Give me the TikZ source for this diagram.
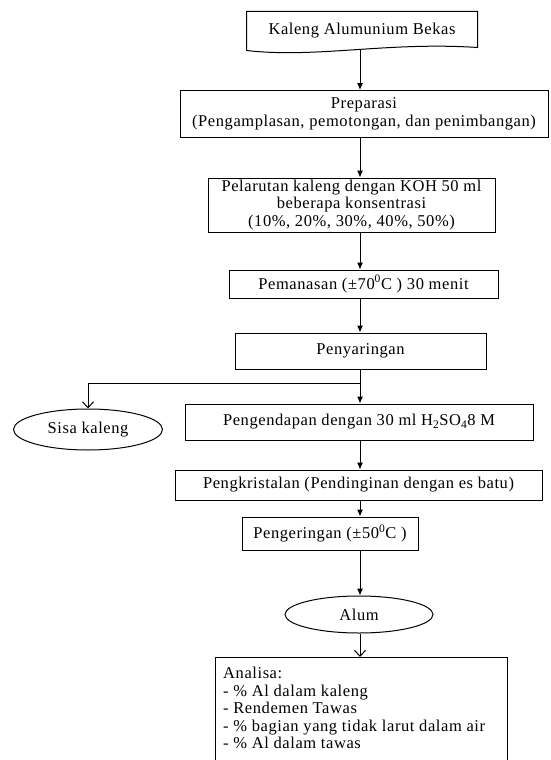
\documentclass[tikz,border=0pt]{standalone}
\usepackage{fontspec}
\setmainfont{Liberation Serif}[LetterSpace=3.5]
\usetikzlibrary{arrows.meta, positioning, shapes.geometric}

\newcommand{\flowfont}{\fontsize{16.5}{17.5}\selectfont}

\tikzset{
  line/.style={black, line width=1pt},
  box/.style={line, draw, rectangle, inner sep=0pt, align=center, font=\flowfont},
  oval/.style={line, draw, ellipse, inner sep=0pt, font=\flowfont},
  arr/.style={line, -{Latex[length=7pt,width=6pt]}},
  openarr/.style={line, -{Straight Barb[length=6pt,width=11pt]}},
}

\begin{document}
\begin{tikzpicture}[x=1pt, y=-1pt]
      % Page frame, 550 x 760, y runs downwards
      \clip (0,0) rectangle (550,760);
      \fill[white] (0,0) rectangle (550,760);

      % Main column
      \coordinate (axis) at (360,0);

      % Steps
      \node[box, draw=none, minimum width=230pt, minimum height=38pt] (kaleng)  at (362,31)    {Kaleng Alumunium Bekas};
      \node[box, minimum width=368pt, minimum height=47pt]             (prep)    at (364,114)   {Preparasi\\(Pengamplasan, pemotongan, dan penimbangan)};
      \node[box, minimum width=287pt, minimum height=54pt]             (larut)   at (351.5,205) {Pelarutan kaleng dengan KOH 50 ml\\beberapa konsentrasi\\(10\%, 20\%, 30\%, 40\%, 50\%)};
      \node[box, minimum width=269pt, minimum height=28pt]             (panas)   at (363.5,284) {Pemanasan (±70\textsuperscript{0}C ) 30 menit};
      \node[box, minimum width=251pt, minimum height=36pt]             (saring)  at (360.5,351) {Penyaringan};
      \node[box, minimum width=348pt, minimum height=36pt]             (endap)   at (359,422)   {Pengendapan dengan 30 ml H\textsubscript{2}SO\textsubscript{4}8 M};
      \node[box, minimum width=367pt, minimum height=30pt]             (kristal) at (358.5,485) {Pengkristalan (Pendinginan dengan es batu)};
      \node[box, minimum width=176pt, minimum height=33pt]             (kering)  at (330,533.5) {Pengeringan (±50\textsuperscript{0}C )};
      \node[oval, minimum width=148pt, minimum height=37pt]            (alum)    at (359,614.5) {Alum};
      \node[oval, minimum width=149pt, minimum height=41pt]            (sisa)    at (88,429.5)  {Sisa kaleng};

      % Document shape with a wavy bottom
      \draw[line] (kaleng.south west) -- (kaleng.north west) -- (kaleng.north east)
           -- ([yshift=3pt]kaleng.south east)
           .. controls ([xshift=-90pt,yshift=9pt]kaleng.south east) and ([xshift=70pt,yshift=-8pt]kaleng.south west) .. (kaleng.south west);

      % Analysis list, its box runs off the bottom of the page
      \node[anchor=north west, align=left, inner sep=0pt, font=\flowfont] (analisa) at (223,667)
           {Analisa:\\- \% Al dalam kaleng\\- Rendemen Tawas\\- \% bagian yang tidak larut dalam air\\- \% Al dalam tawas};
      \draw[line] (215,800) |- (507,657) -- (507,800);
      \coordinate (analisatop) at (360,657);

      % Connectors
      \draw[arr] (kaleng.south -| axis) -- (prep.north -| axis);
      \draw[arr] (prep.south -| axis)   -- (larut.north -| axis);
      \draw[arr] (larut.south -| axis)  -- (panas.north -| axis);
      \draw[arr] (panas.south -| axis)  -- (saring.north -| axis);

      % Split after filtering
      \coordinate (split) at (360,383);
      \draw[line]    (saring.south -| axis) -- (split);
      \draw[arr]     (split) -- (endap.north -| axis);
      \draw[openarr] (split) -| (sisa.north);

      \draw[arr]     (endap.south -| axis)   -- (kristal.north -| axis);
      \draw[arr]     (kristal.south -| axis) -- (kering.north -| axis);
      \draw[arr]     (kering.south -| axis)  -- (alum.north -| axis);
      \draw[openarr] (alum.south -| axis)    -- (analisatop);
  \end{tikzpicture}
\end{document}
